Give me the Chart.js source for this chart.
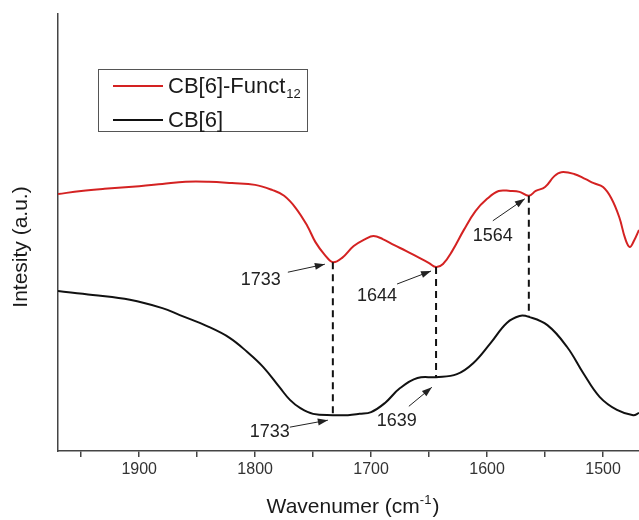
<!DOCTYPE html>
<html>
<head>
<meta charset="utf-8">
<script src="https://cdn.jsdelivr.net/npm/chart.js@4.4.1/dist/chart.umd.min.js"></script>
<style>
  body { margin: 0; background: #fff; }
</style>
</head>
<body>
<canvas id="irChart" width="639" height="520"></canvas>
<script>
// series names (second part is drawn as subscript)
const seriesNames = ["CB[6]-Funct", "CB[6]"];
const seriesSubs = ["12", ""];

// CB[6]-Funct12 spectrum (wavenumber, intensity a.u.)
const funcWave = [1970, 1950, 1930, 1900, 1880, 1860, 1840, 1820, 1800, 1785, 1775, 1765, 1755, 1748, 1740, 1733, 1725, 1715, 1705, 1698, 1690, 1680, 1670, 1660, 1650, 1644, 1638, 1630, 1620, 1610, 1600, 1590, 1580, 1572, 1564, 1558, 1550, 1542, 1536, 1525, 1515, 1508, 1500, 1493, 1486, 1481, 1477, 1473, 1469];
const funcInt = [58.8, 59.5, 60.0, 60.6, 61.1, 61.6, 61.6, 61.3, 60.9, 59.7, 58.4, 55.6, 51.5, 47.8, 44.9, 43.2, 44.2, 46.9, 48.5, 49.2, 48.5, 47.1, 45.8, 44.4, 43.0, 42.1, 42.8, 45.8, 50.6, 54.9, 57.7, 59.5, 59.5, 59.3, 58.4, 59.5, 60.4, 62.9, 63.8, 63.4, 62.2, 61.3, 60.4, 57.9, 53.5, 48.7, 46.7, 48.3, 50.6];

// CB[6] spectrum
const cbWave = [1970, 1940, 1908, 1880, 1865, 1840, 1822, 1807, 1793, 1779, 1770, 1761, 1750, 1733, 1720, 1710, 1700, 1688, 1675, 1660, 1644, 1626, 1612, 1597, 1583, 1572, 1564, 1548, 1531, 1517, 1503, 1488, 1474, 1469];
const cbInt = [36.6, 35.7, 34.6, 32.7, 31.1, 28.4, 25.9, 22.7, 19.2, 14.6, 11.7, 9.8, 8.5, 8.2, 8.2, 8.5, 8.9, 11.0, 14.4, 16.7, 16.9, 17.6, 20.1, 24.7, 29.3, 30.9, 30.7, 28.8, 23.8, 17.8, 12.4, 9.4, 8.2, 8.7];

// x axis tick labels
const xTicks = [1900, 1800, 1700, 1600, 1500];

// dashed guide lines between the two spectra
const guideWave = [1733, 1644, 1564];

// peak callouts
const peakText = ["1733", "1644", "1564", "1733", "1639"];
const peakSeries = [0, 0, 0, 1, 1];
const peakWave = [1733, 1644, 1564, 1733, 1639];

const toPoints = (xs, ys) => xs.map((x, i) => ({ x: x, y: ys[i] }));

function valueAt(ds, w) {
  const pts = ds.data;
  for (let i = 0; i < pts.length - 1; i++) {
    const a = pts[i], b = pts[i + 1];
    if ((w <= a.x && w >= b.x)) {
      const t = (a.x - w) / (a.x - b.x);
      return a.y + t * (b.y - a.y);
    }
  }
  return pts[pts.length - 1].y;
}

// pixel offsets for arrow tip, arrow tail and label, relative to the peak point
const calloutLayout = [
  { tip: [-8, 2], tail: [-45, 10], text: [-72, 18] },
  { tip: [-5, 4], tail: [-39, 17], text: [-59, 29] },
  { tip: [-4, 3], tail: [-36, 25], text: [-36, 40] },
  { tip: [-5, 5], tail: [-43, 12], text: [-63, 17] },
  { tip: [-10, 11], tail: [-33, 30], text: [-45, 45] }
];

const decorPlugin = {
  id: "decor",
  afterDatasetsDraw(chart) {
    const ctx = chart.ctx;
    const xs = chart.scales.x, ys = chart.scales.y;
    const sets = chart.data.datasets;
    ctx.save();

    // dashed guides
    ctx.strokeStyle = "#111";
    ctx.lineWidth = 2;
    ctx.setLineDash([7, 5]);
    guideWave.forEach(w => {
      const px = xs.getPixelForValue(w);
      ctx.beginPath();
      ctx.moveTo(px, ys.getPixelForValue(valueAt(sets[0], w)));
      ctx.lineTo(px, ys.getPixelForValue(valueAt(sets[1], w)));
      ctx.stroke();
    });
    ctx.setLineDash([]);

    // callouts
    ctx.font = "18px 'Liberation Sans', Arial, sans-serif";
    ctx.textAlign = "center";
    ctx.textBaseline = "middle";
    peakText.forEach((t, i) => {
      const w = peakWave[i];
      const px = xs.getPixelForValue(w);
      const py = ys.getPixelForValue(valueAt(sets[peakSeries[i]], w));
      const L = calloutLayout[i];
      const tx = px + L.tip[0], ty = py + L.tip[1];
      const sx = px + L.tail[0], sy = py + L.tail[1];
      ctx.strokeStyle = "#222";
      ctx.fillStyle = "#222";
      ctx.lineWidth = 1;
      ctx.beginPath();
      ctx.moveTo(sx, sy);
      ctx.lineTo(tx, ty);
      ctx.stroke();
      const ang = Math.atan2(ty - sy, tx - sx);
      const hl = 10, hw = 3.5;
      ctx.beginPath();
      ctx.moveTo(tx, ty);
      ctx.lineTo(tx - hl * Math.cos(ang) + hw * Math.sin(ang), ty - hl * Math.sin(ang) - hw * Math.cos(ang));
      ctx.lineTo(tx - hl * Math.cos(ang) - hw * Math.sin(ang), ty - hl * Math.sin(ang) + hw * Math.cos(ang));
      ctx.closePath();
      ctx.fill();
      ctx.fillText(t, px + L.text[0], py + L.text[1]);
    });

    // legend box
    ctx.strokeStyle = "#555";
    ctx.lineWidth = 1;
    ctx.strokeRect(98.5, 69.5, 209, 62);
    ctx.textAlign = "left";
    sets.forEach((ds, i) => {
      const y = 86 + i * 34;
      ctx.strokeStyle = ds.borderColor;
      ctx.lineWidth = 2;
      ctx.beginPath();
      ctx.moveTo(113, y);
      ctx.lineTo(163, y);
      ctx.stroke();
      ctx.fillStyle = "#1a1a1a";
      ctx.font = "22px 'Liberation Sans', Arial, sans-serif";
      ctx.fillText(seriesNames[i], 168, y + 1);
      if (seriesSubs[i]) {
        const w0 = ctx.measureText(seriesNames[i]).width;
        ctx.font = "13px 'Liberation Sans', Arial, sans-serif";
        ctx.fillText(seriesSubs[i], 168 + w0 + 1, y + 8);
      }
    });

    // x title with superscript
    ctx.fillStyle = "#1a1a1a";
    ctx.textBaseline = "alphabetic";
    const big = "21px 'Liberation Sans', Arial, sans-serif";
    const small = "13px 'Liberation Sans', Arial, sans-serif";
    ctx.font = big;
    const p1 = "Wavenumer (cm", p3 = ")";
    const w1 = ctx.measureText(p1).width, w3 = ctx.measureText(p3).width;
    ctx.font = small;
    const w2 = ctx.measureText("-1").width;
    const total = w1 + w2 + w3 + 1;
    const x0 = 353 - total / 2;
    const base = 513;
    ctx.font = big;
    ctx.fillText(p1, x0, base);
    ctx.font = small;
    ctx.fillText("-1", x0 + w1, base - 9);
    ctx.font = big;
    ctx.fillText(p3, x0 + w1 + w2 + 1, base);

    // y title
    ctx.translate(21, 247);
    ctx.rotate(-Math.PI / 2);
    ctx.textAlign = "center";
    ctx.textBaseline = "middle";
    ctx.font = big;
    ctx.fillText("Intesity (a.u.)", 0, 0);
    ctx.restore();
  }
};

new Chart(document.getElementById("irChart").getContext("2d"), {
  type: "line",
  data: {
    datasets: [
      {
        label: seriesNames[0] + seriesSubs[0],
        data: toPoints(funcWave, funcInt),
        borderColor: "#d42222",
        borderWidth: 2,
        pointRadius: 0,
        tension: 0.4,
        fill: false
      },
      {
        label: seriesNames[1],
        data: toPoints(cbWave, cbInt),
        borderColor: "#111111",
        borderWidth: 2,
        pointRadius: 0,
        tension: 0.4,
        fill: false
      }
    ]
  },
  options: {
    responsive: false,
    animation: false,
    layout: { padding: { top: 14, right: 0, left: 0, bottom: 0 } },
    plugins: {
      legend: { display: false },
      tooltip: { enabled: false }
    },
    scales: {
      x: {
        type: "linear",
        reverse: true,
        min: 1469,
        max: 1970,
        afterFit: (s) => { s.height = 69; },
        afterBuildTicks: (s) => {
          s.ticks = [];
          for (let v = 1950; v >= 1469; v -= 50) s.ticks.push({ value: v });
        },
        border: { color: "#444", width: 1.5 },
        grid: { drawOnChartArea: false, tickLength: 6, color: "#444", lineWidth: 1.5 },
        ticks: {
          padding: 3,
          maxRotation: 0,
          autoSkip: false,
          color: "#333",
          font: { family: "'Liberation Sans', Arial, sans-serif", size: 16 },
          callback: (v) => (xTicks.includes(v) ? String(v) : "")
        }
      },
      y: {
        min: 0,
        max: 100,
        afterFit: (s) => { s.width = 58; },
        border: { color: "#444", width: 1.5 },
        grid: { drawOnChartArea: false, drawTicks: false },
        ticks: { display: false }
      }
    }
  },
  plugins: [decorPlugin]
});
</script>
</body>
</html>
